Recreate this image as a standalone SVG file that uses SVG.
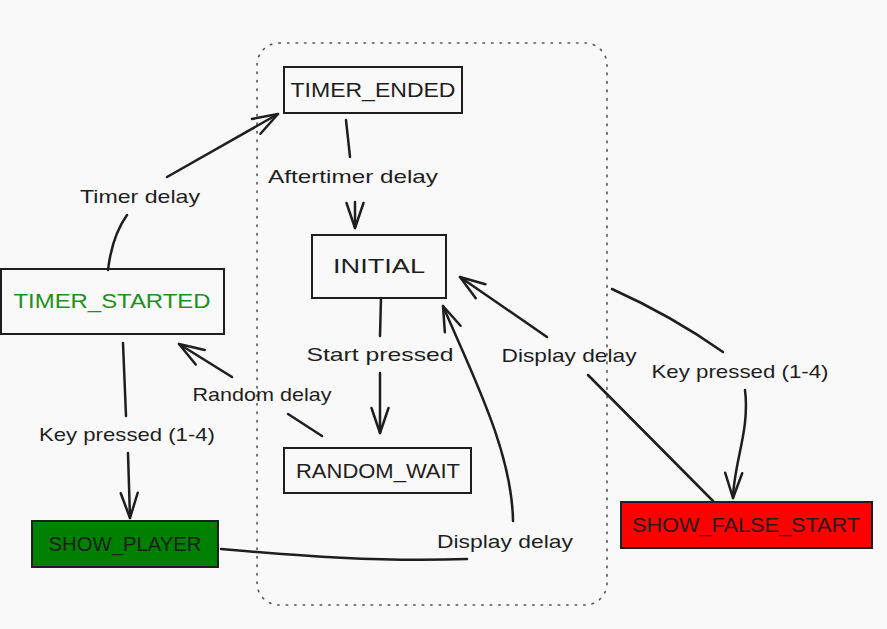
<svg xmlns="http://www.w3.org/2000/svg" width="887" height="629" viewBox="0 0 887 629">
<style>
.bg{fill:#f9f9f9}
.box{stroke:#1e1e1e;stroke-width:2;fill:none}
.nt{font-family:"Liberation Sans",Arial,sans-serif;font-size:20px;fill:#1e1e1e;text-anchor:middle}
.lt{font-family:"Liberation Sans",Arial,sans-serif;font-size:19px;fill:#1e1e1e;text-anchor:middle}
.c{fill:none;stroke:#1e1e1e;stroke-width:2.5;stroke-linecap:round;stroke-linejoin:round}
.frame{fill:none;stroke:#555;stroke-width:1.6;stroke-dasharray:1.5 7;stroke-linecap:round}
</style>
<defs>
<marker id="ah" markerUnits="userSpaceOnUse" markerWidth="40" markerHeight="30" viewBox="-30 -15 36 30" refX="0" refY="0" orient="auto" overflow="visible">
<path d="M-25,-8.5 L0,0 L-25,8.5" fill="none" stroke="#1e1e1e" stroke-width="2.5" stroke-linecap="round" stroke-linejoin="round"/>
</marker>
</defs>
<rect class="bg" x="0" y="0" width="887" height="629"/>
<g id="frame"><rect class="frame" x="257" y="43" width="350" height="562" rx="22" ry="22"/></g>
<g id="connectors">
<path class="c" d="M108 270 Q 112 236 127 215"/>
<path class="c" d="M167 177 L 278 114" marker-end="url(#ah)"/>
<text class="lt" x="140" y="203" textLength="120" lengthAdjust="spacingAndGlyphs">Timer delay</text>
<path class="c" d="M346 120 L 350 157"/>
<path class="c" d="M355 202 L 355 228" marker-end="url(#ah)"/>
<text class="lt" x="353" y="183" textLength="170" lengthAdjust="spacingAndGlyphs">Aftertimer delay</text>
<path class="c" d="M381 298 L 380 336"/>
<path class="c" d="M380 373 L 380 433" marker-end="url(#ah)"/>
<text class="lt" x="380" y="361" textLength="147" lengthAdjust="spacingAndGlyphs">Start pressed</text>
<path class="c" d="M322 436 L 288 414"/>
<path class="c" d="M232 377 L 179 344" marker-end="url(#ah)"/>
<text class="lt" x="262" y="401" textLength="139" lengthAdjust="spacingAndGlyphs">Random delay</text>
<path class="c" d="M123 343 L 126 416"/>
<path class="c" d="M128 453 L 130 518" marker-end="url(#ah)"/>
<text class="lt" x="127" y="441" textLength="176" lengthAdjust="spacingAndGlyphs">Key pressed (1-4)</text>
<path class="c" d="M713 501 L 588 375"/>
<path class="c" d="M547 337 L 460 277" marker-end="url(#ah)"/>
<text class="lt" x="569" y="362" textLength="135" lengthAdjust="spacingAndGlyphs">Display delay</text>
<path class="c" d="M612 289 Q 672 316 723 352"/>
<path class="c" d="M745 390 C 750 430 734 462 733 498" marker-end="url(#ah)"/>
<text class="lt" x="740" y="378" textLength="177" lengthAdjust="spacingAndGlyphs">Key pressed (1-4)</text>
<path class="c" d="M221 549 C 300 556 380 562 467 559"/>
<path class="c" d="M513 521 C 512 450 470 370 443 306" marker-end="url(#ah)"/>
<text class="lt" x="505" y="548" textLength="136" lengthAdjust="spacingAndGlyphs">Display delay</text>
</g>
<g id="TIMER_ENDED"><rect class="box" x="284" y="67" width="178" height="46"/><text class="nt" x="373" y="97" textLength="165" lengthAdjust="spacingAndGlyphs">TIMER_ENDED</text></g>
<g id="INITIAL"><rect class="box" x="312" y="235" width="134" height="63"/><text class="nt" x="379" y="273" textLength="92" lengthAdjust="spacingAndGlyphs">INITIAL</text></g>
<g id="TIMER_STARTED"><rect class="box" x="1" y="269" width="223" height="65"/><text class="nt" x="112" y="308" textLength="197" lengthAdjust="spacingAndGlyphs" style="fill:#1f8f1f">TIMER_STARTED</text></g>
<g id="RANDOM_WAIT"><rect class="box" x="284" y="448" width="187" height="45"/><text class="nt" x="378" y="478" textLength="164" lengthAdjust="spacingAndGlyphs">RANDOM_WAIT</text></g>
<g id="SHOW_PLAYER"><rect class="box" x="32" y="521" width="186" height="46" style="fill:#008000"/><text class="nt" x="125" y="551" textLength="153" lengthAdjust="spacingAndGlyphs">SHOW_PLAYER</text></g>
<g id="SHOW_FALSE_START"><rect class="box" x="621" y="502" width="251" height="46" style="fill:#ff0000"/><text class="nt" x="746" y="532" textLength="228" lengthAdjust="spacingAndGlyphs">SHOW_FALSE_START</text></g>
</svg>
